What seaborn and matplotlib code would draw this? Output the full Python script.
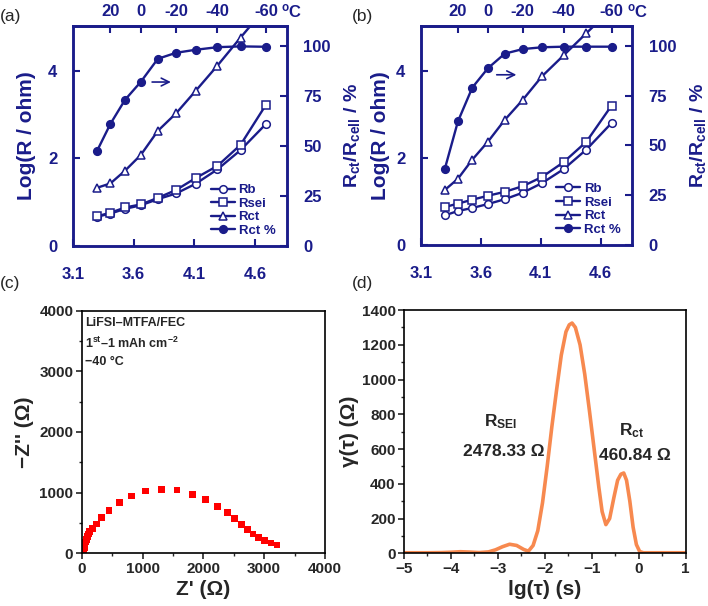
import matplotlib
matplotlib.use("Agg")
import matplotlib.pyplot as plt
import seaborn as sns
from matplotlib.ticker import MultipleLocator

# ---- (a) / (b): log R vs 1000/T ----
inv_T = [3.30, 3.41, 3.53, 3.66, 3.80, 3.95, 4.11, 4.29, 4.48, 4.69]

a_rb = [0.67, 0.74, 0.85, 0.93, 1.07, 1.20, 1.42, 1.75, 2.19, 2.79]
a_rsei = [0.68, 0.76, 0.88, 0.95, 1.10, 1.28, 1.55, 1.83, 2.31, 3.23]
a_rct = [1.33, 1.43, 1.72, 2.08, 2.63, 3.03, 3.54, 4.12, 4.76, 5.45]
a_rct_pct = [47.5, 61.0, 73.0, 82.0, 93.5, 96.5, 98.0, 99.3, 99.7, 99.5]

b_rb = [0.68, 0.78, 0.85, 0.94, 1.05, 1.20, 1.42, 1.74, 2.19, 2.80]
b_rsei = [0.87, 0.95, 1.04, 1.13, 1.22, 1.35, 1.56, 1.90, 2.37, 3.20]
b_rct = [1.26, 1.52, 1.96, 2.37, 2.87, 3.33, 3.87, 4.35, 4.86, 5.42]
b_rct_pct = [38.0, 62.0, 79.0, 88.7, 96.0, 98.3, 99.2, 99.5, 99.5, 99.5]

temp_labels = ["20", "0", "-20", "-40", "-60"]
temp_pos = [3.41, 3.66, 3.95, 4.29, 4.69]
legend_labels = ["Rb", "Rsei", "Rct", "Rct %"]

# ---- (c): Nyquist plot ----
z_re = [30, 38, 46, 55, 65, 76, 90, 107, 130, 176, 242, 330, 450, 615, 815,
        1050, 1313, 1566, 1826, 2038, 2234, 2397, 2516, 2625, 2723, 2815,
        2908, 3005, 3114, 3212]
z_im = [5, 50, 95, 140, 185, 228, 272, 318, 360, 415, 483, 590, 710, 833, 944,
        1028, 1056, 1044, 967, 885, 775, 676, 577, 473, 390, 319, 264, 209,
        170, 137]

# ---- (d): DRT ----
lg_tau = [-5.0, -4.5, -4.2, -4.0, -3.8, -3.6, -3.4, -3.2, -3.05, -2.9, -2.75,
          -2.6, -2.45, -2.35, -2.25, -2.15, -2.05, -1.95, -1.85, -1.75, -1.65,
          -1.55, -1.48, -1.42, -1.35, -1.25, -1.15, -1.05, -0.95, -0.85, -0.78,
          -0.70, -0.62, -0.53, -0.45, -0.38, -0.32, -0.26, -0.19, -0.12, -0.05,
          0.02, 0.1, 0.5, 1.0]
gamma = [3, 3, 4, 6, 9, 7, 4, 8, 20, 38, 52, 45, 22, 12, 45, 130, 290, 500, 730,
         940, 1140, 1275, 1315, 1325, 1300, 1200, 1030, 820, 600, 380, 240,
         165, 200, 320, 420, 455, 462, 420, 300, 150, 50, 10, 3, 3, 3]

NAVY = "#1a1c8a"
ORANGE = "#f7894f"

sns.set_theme(style="ticks")
plt.rcParams["font.family"] = ["Liberation Sans", "DejaVu Sans"]
plt.rcParams["font.weight"] = "bold"
plt.rcParams["axes.labelweight"] = "bold"
plt.rcParams["mathtext.fontset"] = "custom"
plt.rcParams["mathtext.rm"] = "Liberation Sans:bold"
plt.rcParams["mathtext.bf"] = "Liberation Sans:bold"
plt.rcParams["mathtext.it"] = "Liberation Sans:bold"
plt.rcParams["mathtext.default"] = "bf"

fig = plt.figure(figsize=(7.08, 6.06), dpi=100)


def bold_ticks(ax):
    for t in ax.get_xticklabels() + ax.get_yticklabels():
        t.set_fontweight("bold")


def top_panel(rect, rb, rsei, rct, rct_pct, arrow, left_lab_x, right_lab_x):
    ax = fig.add_axes(rect)
    ax2 = ax.twinx()
    mk = dict(color=NAVY, markersize=5.5, markeredgecolor=NAVY,
              markeredgewidth=1.1, linewidth=1.7)
    sns.lineplot(x=inv_T, y=rb, ax=ax, marker="o", markerfacecolor="white", **mk)
    sns.lineplot(x=inv_T, y=rsei, ax=ax, marker="s", markerfacecolor="white", **mk)
    sns.lineplot(x=inv_T, y=rct, ax=ax, marker="^", markerfacecolor="white", **mk)
    sns.lineplot(x=inv_T, y=rct_pct, ax=ax2, marker="o", markerfacecolor=NAVY, **mk)
    handles = ax.lines[:3] + ax2.lines[:1]
    for h, lab in zip(handles, legend_labels):
        h.set_label(lab)

    ax.set_xlim(3.1, 4.86)
    ax.set_ylim(0, 5.03)
    ax2.set_ylim(0, 110)
    ax.set_xticks([3.1, 3.6, 4.1, 4.6])
    ax.set_yticks([0, 2, 4])
    ax2.set_yticks([0, 25, 50, 75, 100])
    ax.set_xlabel("")
    ax.set_ylabel("Log(R / ohm)", fontsize=15, color=NAVY)
    ax2.set_ylabel("R$_{ct}$/R$_{cell}$ / %", fontsize=14, color=NAVY)
    ax.yaxis.set_label_coords(left_lab_x, 0.5)
    ax2.yaxis.set_label_coords(right_lab_x, 0.5)

    ax.tick_params(axis="x", direction="in", length=5, width=1.5,
                   colors=NAVY, labelsize=12, pad=15)
    ax.tick_params(axis="y", direction="in", length=5, width=1.5,
                   colors=NAVY, labelsize=12, pad=11)
    ax2.tick_params(axis="y", direction="in", length=5, width=1.5,
                    colors=NAVY, labelsize=12, pad=12)
    for a in (ax, ax2):
        bold_ticks(a)
        for s in a.spines.values():
            s.set_color(NAVY)
            s.set_linewidth(1.8)

    sec = ax.secondary_xaxis("top")
    sec.set_xticks(temp_pos, labels=temp_labels)
    sec.tick_params(direction="in", length=5, width=1.5, colors=NAVY,
                    labelsize=12, pad=5)
    for t in sec.get_xticklabels():
        t.set_fontweight("bold")
    sec.spines["top"].set_color(NAVY)
    sec.spines["top"].set_linewidth(1.8)
    ax.text(0.975, 1.065, "$^{o}$C", transform=ax.transAxes, fontsize=12,
            color=NAVY, ha="left", va="center")

    ax2.annotate("", xy=(arrow[1], arrow[2]), xytext=(arrow[0], arrow[2]),
                 arrowprops=dict(arrowstyle="->", color=NAVY, lw=1.2,
                                 mutation_scale=14))
    leg = ax2.legend(handles=handles, loc="lower right",
                     bbox_to_anchor=(0.99, 0.0), frameon=False, fontsize=9.5,
                     handlelength=1.8, handletextpad=0.3, labelspacing=0.1,
                     borderaxespad=0.3)
    for t in leg.get_texts():
        t.set_color(NAVY)
        t.set_fontweight("bold")
    return ax


top_panel([0.1027, 0.594, 0.3023, 0.3635], a_rb, a_rsei, a_rct, a_rct_pct,
          (3.73, 3.93, 81.9), -0.17, 1.26)
top_panel([0.5942, 0.5957, 0.2985, 0.3618], b_rb, b_rsei, b_rct, b_rct_pct,
          (3.71, 3.92, 85.4), -0.145, 1.265)

# ---- (c) ----
axc = fig.add_axes([0.1154, 0.087, 0.3436, 0.4003])
sns.scatterplot(x=z_re, y=z_im, ax=axc, marker="s", color="red", s=24,
                edgecolor="none")
axc.set_xlim(0, 4000)
axc.set_ylim(0, 4000)
axc.xaxis.set_major_locator(MultipleLocator(1000))
axc.yaxis.set_major_locator(MultipleLocator(1000))
axc.xaxis.set_minor_locator(MultipleLocator(500))
axc.yaxis.set_minor_locator(MultipleLocator(500))
axc.tick_params(which="major", direction="out", length=4, width=1.2,
                labelsize=11, pad=2)
axc.tick_params(which="minor", direction="out", length=2.5, width=1.0)
axc.set_xlabel("Z' (Ω)", fontsize=15, labelpad=3)
axc.set_ylabel("\u2212Z'' (Ω)", fontsize=15, labelpad=4)
bold_ticks(axc)
for s in axc.spines.values():
    s.set_linewidth(1.2)
    s.set_color("black")
axc.text(0.015, 0.975, "LiFSI\u2013MTFA/FEC\n1$^{st}$\u20131 mAh cm$^{-2}$\n\u221240 °C",
         transform=axc.transAxes, fontsize=9, va="top", ha="left",
         linespacing=1.55)

# ---- (d) ----
axd = fig.add_axes([0.5706, 0.087, 0.3979, 0.4014])
sns.lineplot(x=lg_tau, y=gamma, ax=axd, color=ORANGE, linewidth=2.6)
axd.set_xlim(-5, 1)
axd.set_ylim(0, 1400)
axd.xaxis.set_major_locator(MultipleLocator(1))
axd.xaxis.set_minor_locator(MultipleLocator(0.5))
axd.yaxis.set_major_locator(MultipleLocator(200))
axd.yaxis.set_minor_locator(MultipleLocator(100))
axd.tick_params(which="major", direction="out", length=4, width=1.2,
                labelsize=11, pad=2)
axd.tick_params(which="minor", direction="out", length=2.5, width=1.0)
axd.set_xlabel("lg(τ) (s)", fontsize=15, labelpad=3)
axd.set_ylabel("γ(τ) (Ω)", fontsize=15, labelpad=2)
bold_ticks(axd)
for s in axd.spines.values():
    s.set_linewidth(1.2)
    s.set_color("black")
axd.text(-2.94, 756, "R$_{SEI}$", fontsize=12.5, ha="center", va="center")
axd.text(-2.87, 587, "2478.33 Ω", fontsize=12.5, ha="center", va="center")
axd.text(-0.16, 708, "R$_{ct}$", fontsize=12.5, ha="center", va="center")
axd.text(-0.08, 563, "460.84 Ω", fontsize=12.5, ha="center", va="center")

for lab, x, y in [("(a)", 0.0, 0.985), ("(b)", 0.497, 0.985),
                  ("(c)", 0.0, 0.545), ("(d)", 0.497, 0.545)]:
    fig.text(x, y, lab, fontsize=12.5, fontweight="normal", ha="left", va="top")

fig.savefig("out.png", dpi=100)
